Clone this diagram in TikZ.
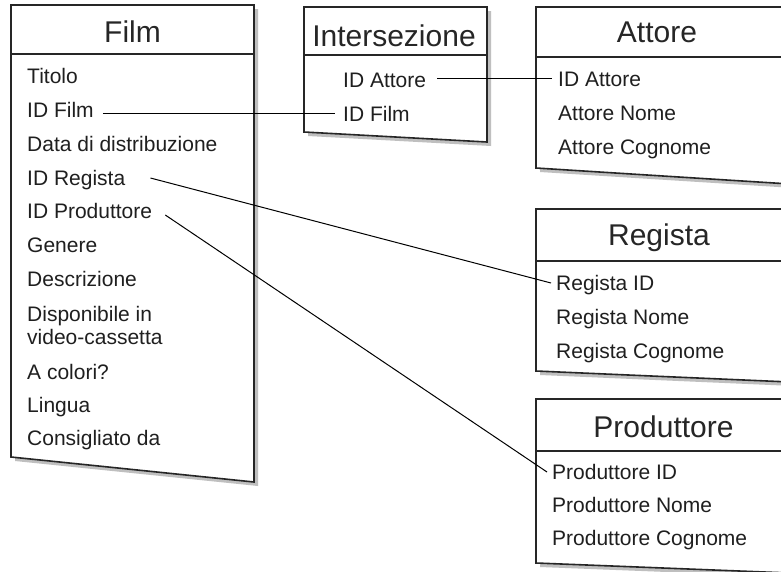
\documentclass[tikz,border=0pt]{standalone}
\usepackage{fontspec}
\setmainfont{Liberation Sans}
\usetikzlibrary{calc}
\newcommand\erbox[6]{%
  \fill[boxshadow] (#1+4,#3+4) -- (#2+4,#3+4) -- (#2+4,#6+4) -- (#1+4,#5+4) -- cycle;
  \fill[white] (#1,#3) -- (#2,#3) -- (#2,#6) -- (#1,#5) -- cycle;
  \draw[border] (#1,#3) -- (#2,#3) -- (#2,#6) -- (#1,#5) -- cycle;
  \draw[border] (#1,#4) -- (#2,#4);
}
\begin{document}
\begin{tikzpicture}[x=1pt,y=-1pt,
  item/.style={anchor=base west, inner sep=0pt, font=\fontsize{21}{25}\selectfont, text=black!88},
  ttl/.style={anchor=base, inner sep=0pt, font=\fontsize{30}{36}\selectfont, text=black!85},
  border/.style={line width=1.6pt, draw=black!85, line join=miter},
  boxshadow/.style={fill=black!25},
  link/.style={line width=1pt, draw=black}]
\useasboundingbox (0,0) rectangle (781,571);
\fill[white] (0,0) rectangle (781,571);
\clip (0,0) rectangle (781,571);

% boxes: left, right, top, separator, bottom-left y, bottom-right y
\erbox{11}{254}{5}{54}{457}{482}
\erbox{304}{487}{7}{55}{132}{142}
\erbox{536}{790}{7}{57}{168}{184}
\erbox{536}{790}{209}{261}{371}{382}
\erbox{536}{790}{399}{451}{563}{573}

% Film
\node[ttl] (filmT) at (132.5,42) {Film};
\node[item] (fTitolo) at (27,83) {Titolo};
\node[item] (fIdFilm) at (27,117) {ID Film};
\node[item] (fData) at (27,151) {Data di distribuzione};
\node[item] (fIdReg) at (27,185) {ID Regista};
\node[item] (fIdProd) at (27,218) {ID Produttore};
\node[item] (fGenere) at (27,252) {Genere};
\node[item] (fDescr) at (27,286) {Descrizione};
\node[item] (fDispA) at (27,321) {Disponibile in};
\node[item] (fDispB) at (27,344) {video-cassetta};
\node[item] (fColori) at (27,379) {A colori?};
\node[item] (fLingua) at (27,412) {Lingua};
\node[item] (fCons) at (27,445) {Consigliato da};

% Intersezione
\node[ttl] (interT) at (394,46) {Intersezione};
\node[item] (iIdAtt) at (343,87) {ID Attore};
\node[item] (iIdFilm) at (343,121) {ID Film};

% Attore
\node[ttl] (attT) at (657,42) {Attore};
\node[item] (aId) at (558,86) {ID Attore};
\node[item] (aNome) at (558,120) {Attore Nome};
\node[item] (aCogn) at (558,154) {Attore Cognome};

% Regista
\node[ttl] (regT) at (659,245) {Regista};
\node[item] (rId) at (556,290) {Regista ID};
\node[item] (rNome) at (556,324) {Regista Nome};
\node[item] (rCogn) at (556,358) {Regista Cognome};

% Produttore
\node[ttl] (prodT) at (663.5,437) {Produttore};
\node[item] (pId) at (552,479) {Produttore ID};
\node[item] (pNome) at (552,512) {Produttore Nome};
\node[item] (pCogn) at (552,545) {Produttore Cognome};

% connectors
\draw[link] ($(fIdFilm.base east)+(9,-4)$) -- ($(iIdFilm.base west)+(-8,-8)$);
\draw[link] ($(iIdAtt.base east)+(11,-9)$) -- ($(aId.base west)+(-6,-8)$);
\draw[link] ($(fIdReg.base east)+(25,-7)$) -- ($(rId.base west)+(-5,-7)$);
\draw[link] ($(fIdProd.base east)+(13,-3)$) -- ($(pId.base west)+(-5,-7)$);
\end{tikzpicture}
\end{document}
